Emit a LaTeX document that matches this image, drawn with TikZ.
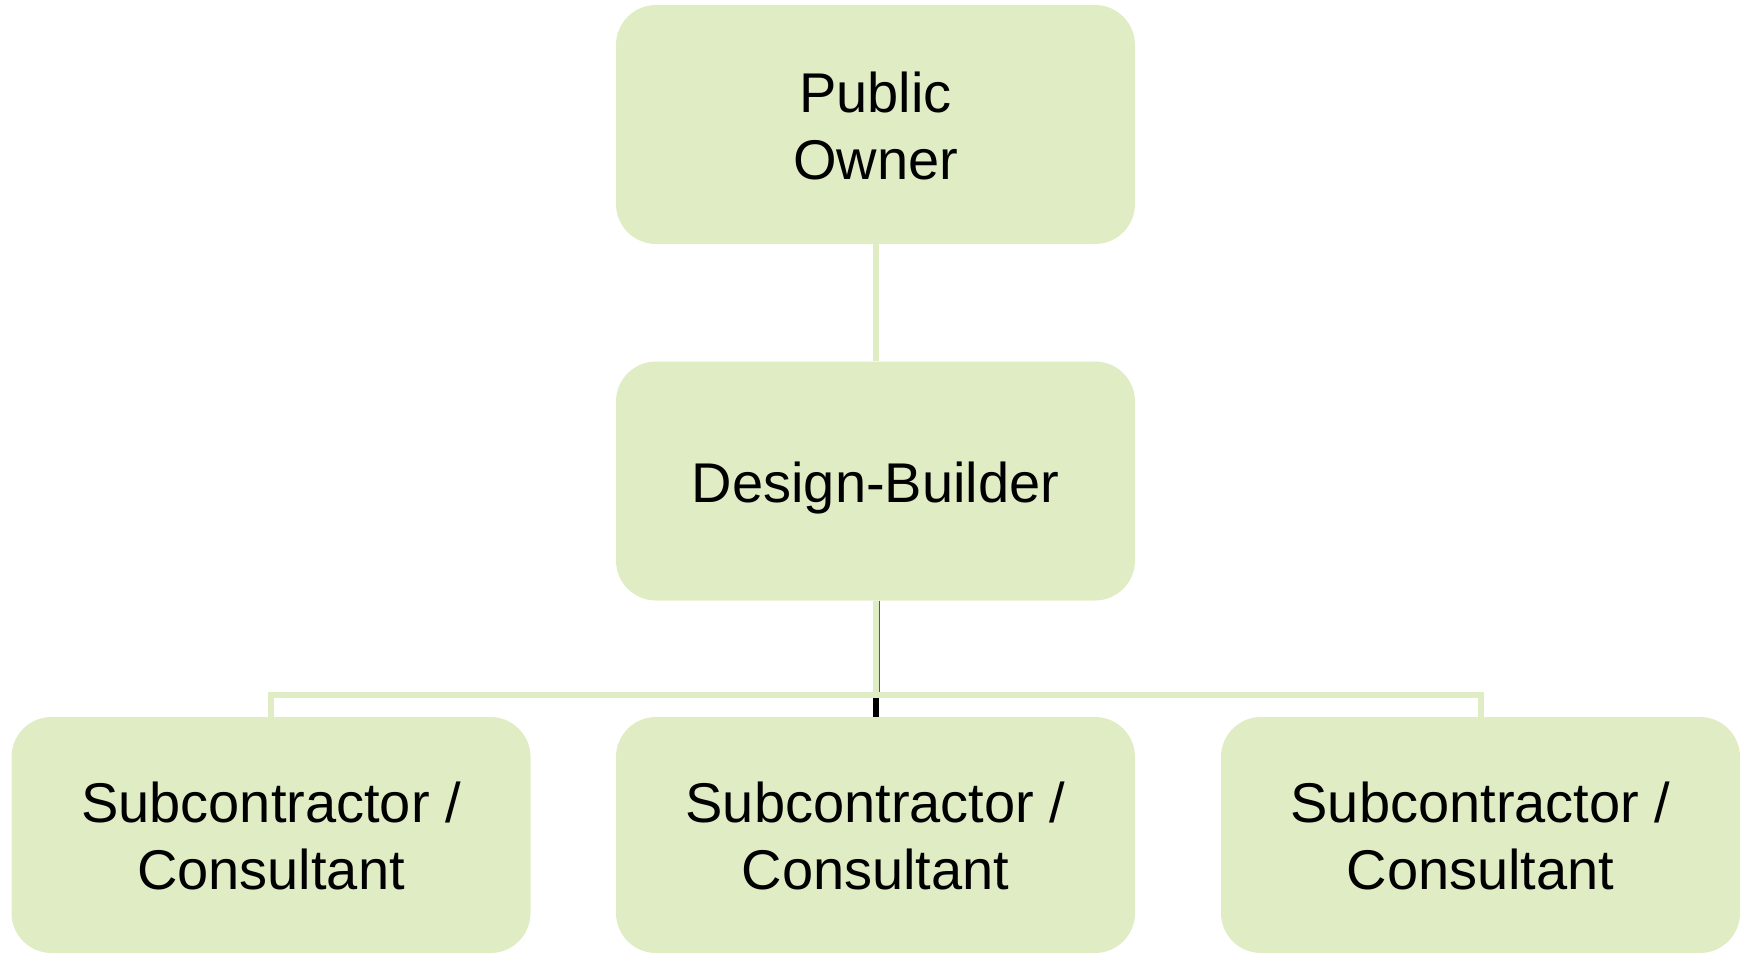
\documentclass[tikz,border=0pt]{standalone}
\usepackage{fontspec}
\setmainfont{Liberation Sans}
\definecolor{boxfill}{RGB}{224,236,196}
\definecolor{edgegray}{RGB}{90,90,80}
% centred lines of box text, set a little below the box centre
\newcommand{\boxlines}[1]{\raisebox{-7.7pt}[\height][\depth]{\begin{tabular}{@{}c@{}}#1\end{tabular}}}
\begin{document}
\begin{tikzpicture}[x=1pt,y=-1pt,
  orgbox/.style={fill=boxfill, draw=none, rounded corners=40pt,
    minimum width=519pt, minimum height=#1, inner sep=0pt,
    font=\fontsize{56}{67}\selectfont},
  orgbox/.default=239pt,
  link/.style={draw=boxfill, line width=6pt},
  stub/.style={draw=black, line width=6pt}]
\useasboundingbox (0,0) rectangle (1748,955);

% boxes
\node[orgbox] (owner) at (875.5,124.5) {\boxlines{Public\\Owner}};
\node[orgbox] (db) at (875.5,481) {\boxlines{Design-Builder}};
\node[orgbox=236pt] (subL) at (271,835) {\boxlines{Subcontractor /\\Consultant}};
\node[orgbox=236pt] (subM) at (875.5,835) {\boxlines{Subcontractor /\\Consultant}};
\node[orgbox=236pt] (subR) at (1480.5,835) {\boxlines{Subcontractor /\\Consultant}};

% branch points
\coordinate (bar) at (876,694.5);
\coordinate (barL) at (subL.north |- bar);
\coordinate (barR) at (subR.north |- bar);

% connectors
\draw[link] (owner.south -| 876,0) -- (db.north -| 876,0);
\draw[link] (db.south -| 876,0) -- (bar);
\draw[edgegray, line width=1pt] (db.south -| 879,0) -- (bar -| 879,0);
\draw[link] (subL.north) -- (barL) -- (barR) -- (subR.north);
\draw[stub] (bar) ++(0,3) -- (subM.north -| 876,0);
\end{tikzpicture}
\end{document}
